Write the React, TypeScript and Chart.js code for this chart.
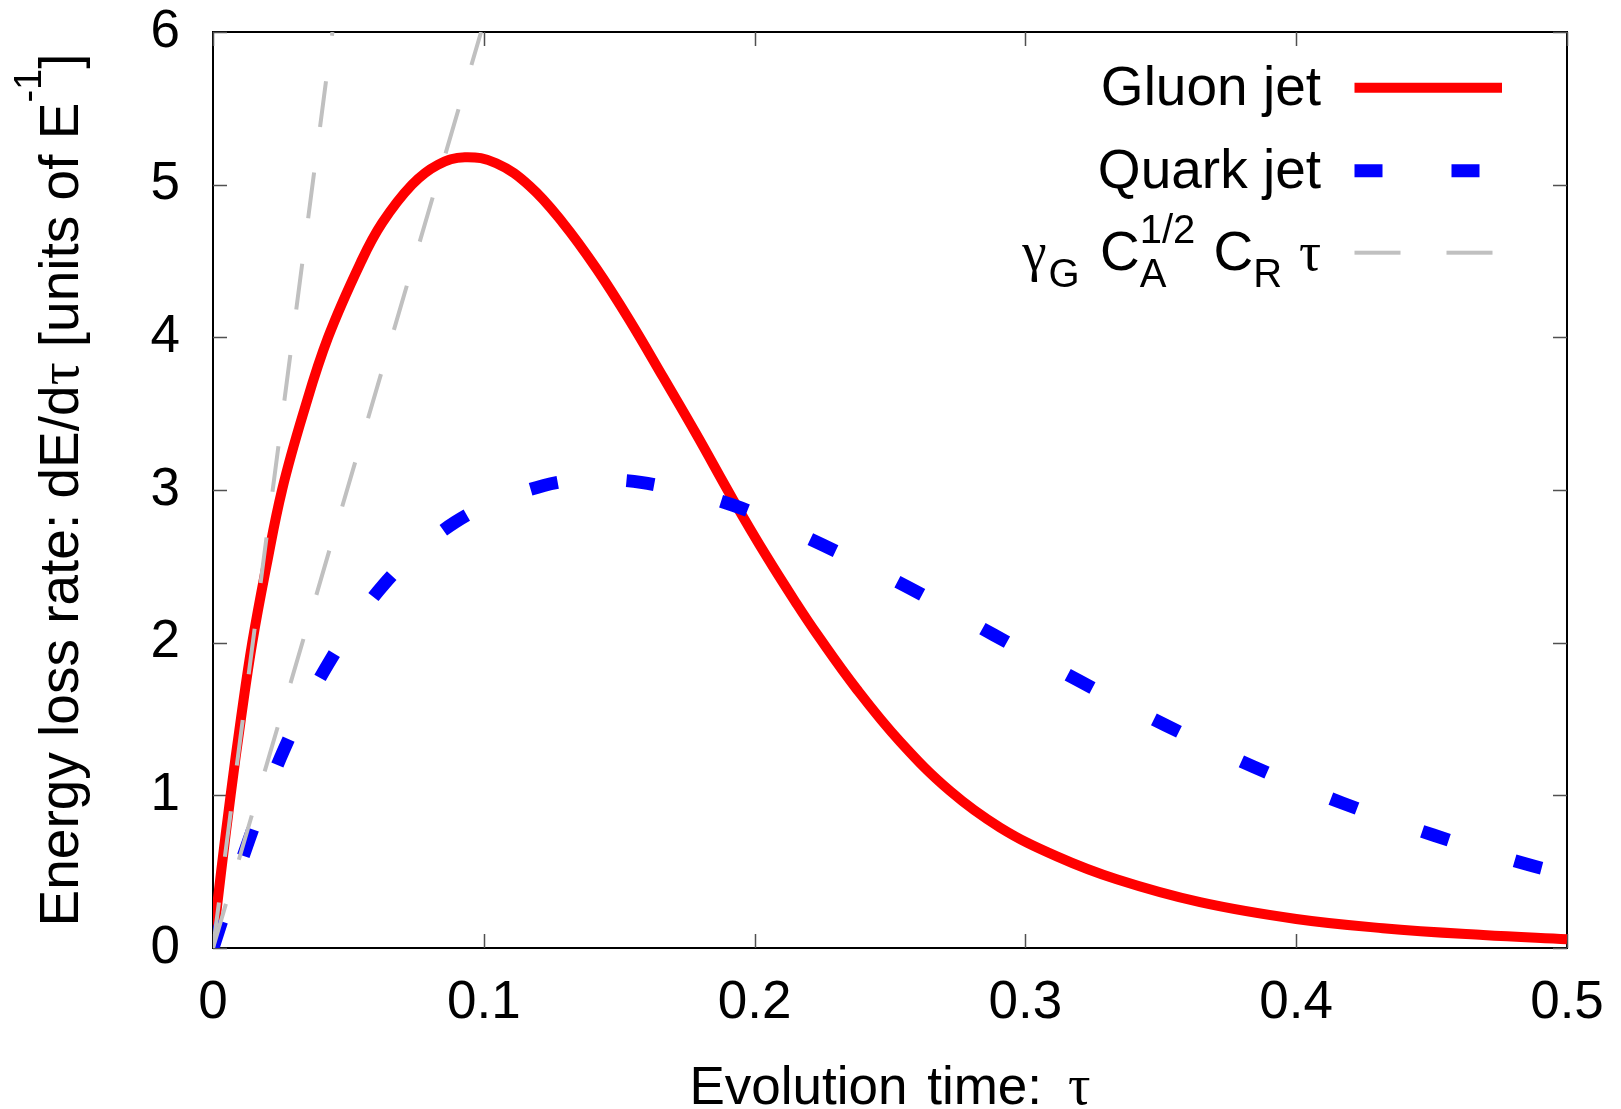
import React, { useEffect, useRef } from 'react';
import { Chart, registerables } from 'chart.js';

Chart.register(...registerables);

// ---- data ----
const gluonTau = [
  0.0005, 0.003, 0.0065, 0.0103, 0.0145, 0.0197, 0.0255, 0.0333, 0.0425, 0.0548,
  0.0625, 0.0735, 0.083, 0.093, 0.1046, 0.117, 0.1292, 0.1416, 0.1539, 0.1662,
  0.1785, 0.1921, 0.2045, 0.2155, 0.2229, 0.2377, 0.2537, 0.2722, 0.2906, 0.3116,
  0.3337, 0.3645, 0.4, 0.432, 0.469, 0.5,
];
const gluonRate = [
  0.12, 0.5, 1.0, 1.5, 2.0, 2.5, 3.0, 3.5, 4.0, 4.5,
  4.75, 5.0, 5.13, 5.18, 5.14, 4.99, 4.75, 4.45, 4.11, 3.74,
  3.365, 2.935, 2.563, 2.255, 2.059, 1.696, 1.352, 1.028, 0.79, 0.6,
  0.45, 0.3, 0.19, 0.13, 0.085, 0.057,
];
const quarkTau = [
  0, 0.0031, 0.0133, 0.0262, 0.0425, 0.063, 0.0895, 0.1222, 0.14, 0.158,
  0.1921, 0.2251, 0.257, 0.2884, 0.3198, 0.3517, 0.3839, 0.417, 0.4506, 0.4849, 0.5,
];
const quarkRate = [
  0, 0.17, 0.71, 1.3, 1.86, 2.38, 2.79, 3.03, 3.07, 3.05,
  2.9, 2.64, 2.36, 2.05, 1.75, 1.46, 1.19, 0.95, 0.74, 0.55, 0.48,
];
// early-time asymptotes  gamma_G * C_A^{1/2} * C_R * tau  (gluon: C_R = C_A, quark: C_R = C_F)
const gluonAsymTau = [0, 0.0441];
const gluonAsymRate = [0, 6];
const quarkAsymTau = [0, 0.099];
const quarkAsymRate = [0, 6];

const seriesLabels = ['Gluon jet', 'Quark jet', 'γG CA1/2 CR τ'];

const SANS = '"Liberation Sans", Arial, Helvetica, sans-serif';
const GREEK = '"Liberation Serif", "DejaVu Serif", serif';

type Run = {
  t: string;
  size: number;
  greek?: boolean;
  dy?: number;
  sup?: { t: string; size: number; dy: number };
  gap?: number;
};

const fontOf = (size: number, greek?: boolean) => `${size}px ${greek ? GREEK : SANS}`;

function runWidth(ctx: CanvasRenderingContext2D, r: Run) {
  ctx.font = fontOf(r.size, r.greek);
  let w = ctx.measureText(r.t).width;
  if (r.sup) {
    ctx.font = fontOf(r.sup.size, false);
    w = Math.max(w, ctx.measureText(r.sup.t).width);
  }
  return w + (r.gap || 0);
}

function drawRich(
  ctx: CanvasRenderingContext2D,
  runs: Run[],
  x: number,
  y: number,
  align: 'left' | 'right' | 'center'
) {
  const widths = runs.map((r) => runWidth(ctx, r));
  const total = widths.reduce((a, b) => a + b, 0);
  let cx = align === 'right' ? x - total : align === 'center' ? x - total / 2 : x;
  ctx.textAlign = 'left';
  ctx.textBaseline = 'alphabetic';
  runs.forEach((r, i) => {
    ctx.font = fontOf(r.size, r.greek);
    ctx.fillText(r.t, cx, y + (r.dy || 0));
    if (r.sup) {
      ctx.font = fontOf(r.sup.size, false);
      ctx.fillText(r.sup.t, cx, y + r.sup.dy);
    }
    cx += widths[i];
  });
}

const M = 55;
const S = 40;

const legendRows: { ds: number; base: number; runs: Run[] }[] = [
  { ds: 0, base: 105, runs: [{ t: 'Gluon jet', size: M }] },
  { ds: 1, base: 188, runs: [{ t: 'Quark jet', size: M }] },
  {
    ds: 2,
    base: 270,
    runs: [
      { t: 'γ', size: M, greek: true, gap: 2 },
      { t: 'G', size: S, dy: 17, gap: 5 },
      { t: ' C', size: M },
      { t: 'A', size: S, dy: 17, sup: { t: '1/2', size: S, dy: -27 }, gap: 3 },
      { t: ' C', size: M },
      { t: 'R', size: S, dy: 17, gap: 3 },
      { t: ' τ', size: M, greek: true },
    ],
  },
];

const decorPlugin = {
  id: 'decor',
  beforeDatasetsDraw(chart: any) {
    const { ctx, chartArea: a, scales } = chart;
    const x = scales.x;
    const y = scales.y;
    ctx.save();
    ctx.strokeStyle = '#000';
    ctx.lineWidth = 2;
    ctx.strokeRect(a.left, a.top, a.right - a.left, a.bottom - a.top);
    ctx.strokeStyle = '#505050';
    ctx.lineWidth = 1.5;
    const L = 14;
    ctx.beginPath();
    x.ticks.forEach((t: any) => {
      const px = Math.round(x.getPixelForValue(t.value)) + 0.5;
      ctx.moveTo(px, a.bottom);
      ctx.lineTo(px, a.bottom - L);
      ctx.moveTo(px, a.top);
      ctx.lineTo(px, a.top + L);
    });
    y.ticks.forEach((t: any) => {
      const py = Math.round(y.getPixelForValue(t.value)) + 0.5;
      ctx.moveTo(a.left, py);
      ctx.lineTo(a.left + L, py);
      ctx.moveTo(a.right, py);
      ctx.lineTo(a.right - L, py);
    });
    ctx.stroke();
    ctx.restore();
  },
  afterDraw(chart: any) {
    const { ctx, chartArea: a } = chart;
    ctx.save();
    ctx.fillStyle = '#000';

    // legend
    const textRight = 1321;
    const sx0 = 1354.5;
    const sx1 = 1502;
    legendRows.forEach((row) => {
      drawRich(ctx, row.runs, textRight, row.base, 'right');
      const ds = chart.data.datasets[row.ds];
      const sy = row.base - 17.3;
      ctx.save();
      ctx.strokeStyle = ds.borderColor;
      ctx.lineWidth = ds.borderWidth;
      ctx.setLineDash(ds.borderDash || []);
      ctx.lineCap = 'butt';
      ctx.beginPath();
      ctx.moveTo(sx0, sy);
      ctx.lineTo(sx1, sy);
      ctx.stroke();
      ctx.restore();
    });

    // x title
    const xc = (a.left + a.right) / 2;
    drawRich(
      ctx,
      [
        { t: 'Evolution', size: 53, gap: 5 },
        { t: ' time:', size: 53, gap: 12 },
        { t: ' τ', size: 56, greek: true },
      ],
      xc,
      1104,
      'center'
    );

    // y title (rotated)
    ctx.save();
    ctx.translate(78, 490);
    ctx.rotate(-Math.PI / 2);
    drawRich(
      ctx,
      [
        { t: 'Energy loss rate: dE/d', size: 55 },
        { t: 'τ', size: 57, greek: true },
        { t: ' [units of E', size: 55 },
        { t: '-1', size: 38, dy: -37 },
        { t: ']', size: 55 },
      ],
      0,
      0,
      'center'
    );
    ctx.restore();

    ctx.restore();
  },
};

export default function App() {
  const ref = useRef<HTMLCanvasElement | null>(null);

  useEffect(() => {
    document.body.style.margin = '0';
    document.body.style.overflow = 'hidden';
    const canvas = ref.current;
    if (!canvas) return;

    const toPts = (xs: number[], ys: number[]) => xs.map((v, i) => ({ x: v, y: ys[i] }));

    const chart = new Chart(canvas, {
      type: 'line',
      data: {
        datasets: [
          {
            label: seriesLabels[0],
            data: toPts(gluonTau, gluonRate),
            borderColor: '#ff0000',
            borderWidth: 10,
            pointRadius: 0,
            tension: 0.4,
            fill: false,
            order: 3,
          },
          {
            label: seriesLabels[1],
            data: toPts(quarkTau, quarkRate),
            borderColor: '#0000ff',
            borderWidth: 13,
            borderDash: [28, 69],
            pointRadius: 0,
            cubicInterpolationMode: 'monotone',
            fill: false,
            order: 2,
          },
          {
            label: seriesLabels[2],
            data: toPts(gluonAsymTau, gluonAsymRate),
            borderColor: '#c0c0c0',
            borderWidth: 4,
            borderDash: [46, 46],
            pointRadius: 0,
            tension: 0,
            fill: false,
            order: 1,
          },
          {
            label: '',
            data: toPts(quarkAsymTau, quarkAsymRate),
            borderColor: '#c0c0c0',
            borderWidth: 4,
            borderDash: [46, 46],
            pointRadius: 0,
            tension: 0,
            fill: false,
            order: 0,
          },
        ],
      } as any,
      options: {
        animation: false,
        responsive: false,
        devicePixelRatio: 1,
        layout: { padding: { left: 0, top: 32, right: 54, bottom: 0 } },
        plugins: {
          legend: { display: false },
          tooltip: { enabled: false },
          title: { display: false },
        },
        scales: {
          x: {
            type: 'linear',
            min: 0,
            max: 0.5,
            grid: { display: false, drawTicks: false },
            border: { display: false },
            ticks: {
              stepSize: 0.1,
              autoSkip: false,
              maxRotation: 0,
              padding: 24,
              color: '#000',
              font: { family: SANS, size: 53 },
            },
            afterFit: (s: any) => {
              s.height = 161;
              s.paddingLeft = 0;
              s.paddingRight = 0;
            },
          },
          y: {
            type: 'linear',
            min: 0,
            max: 6,
            grid: { display: false, drawTicks: false },
            border: { display: false },
            ticks: {
              stepSize: 1,
              autoSkip: false,
              padding: 33,
              color: '#000',
              font: { family: SANS, size: 53 },
            },
            afterFit: (s: any) => {
              s.width = 213;
              s.paddingTop = 0;
              s.paddingBottom = 0;
            },
          },
        },
      } as any,
      plugins: [decorPlugin],
    });

    return () => chart.destroy();
  }, []);

  return (
    <div style={{ width: 1621, height: 1109, position: 'relative', background: '#fff' }}>
      <canvas ref={ref} width={1621} height={1109} style={{ display: 'block' }} />
    </div>
  );
}
